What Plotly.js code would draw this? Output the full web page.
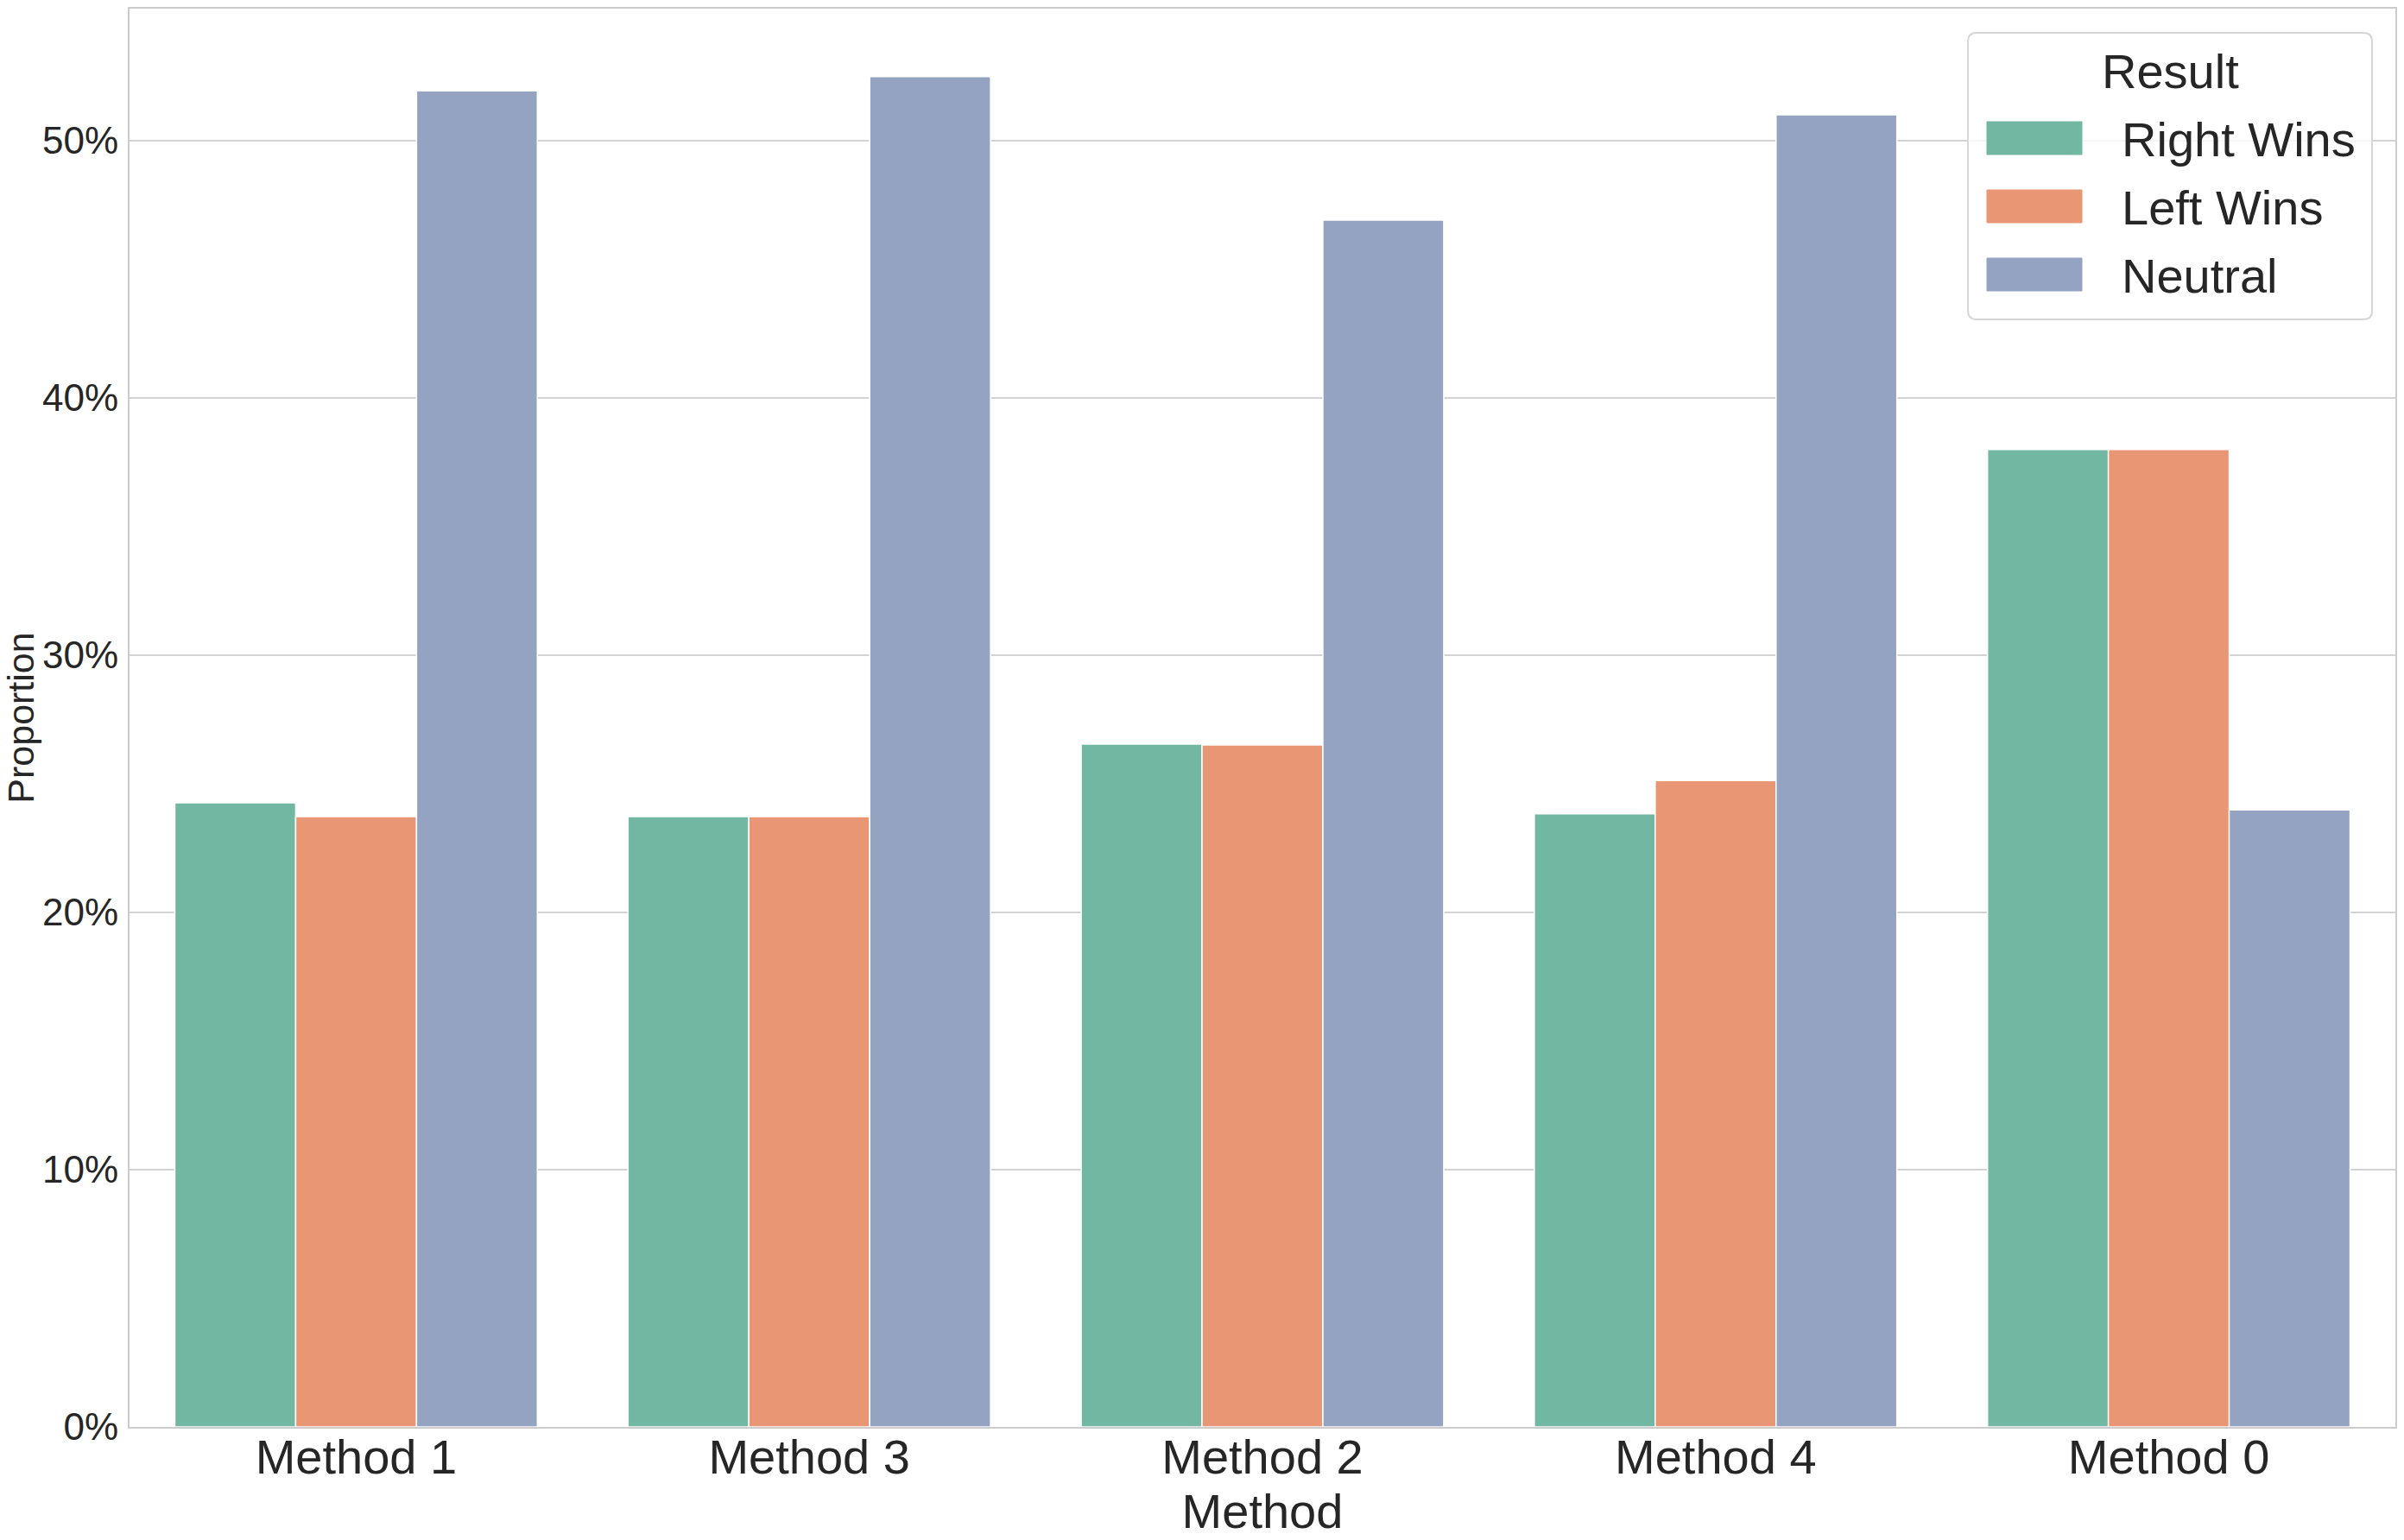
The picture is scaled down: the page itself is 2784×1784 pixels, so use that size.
<!DOCTYPE html>
<html>
<head>
<meta charset="utf-8">
<script src="https://cdn.plot.ly/plotly-3.0.1.min.js"></script>
<style>
  html, body { margin: 0; padding: 0; background: #ffffff; }
  #chart { width: 2784px; height: 1784px; }
</style>
</head>
<body>
<div id="chart"></div>
<script>
// ---- data ----
const methods = ["Method 1", "Method 3", "Method 2", "Method 4", "Method 0"];
const seriesNames = ["Right Wins", "Left Wins", "Neutral"];
const rightWins = [0.2426, 0.2372, 0.2654, 0.2383, 0.3799];
const leftWins  = [0.2372, 0.2372, 0.2651, 0.2512, 0.3799];
const neutral   = [0.5193, 0.5249, 0.4691, 0.5100, 0.2398];
const seriesColors = ["#72b7a1", "#e99675", "#95a3c3"];
const legendTitle = "Result";
const xTitle = "Method";
const yTitle = "Proportion";

const seriesValues = [rightWins, leftWins, neutral];
const FONT = "Liberation Sans, Arial, Helvetica, sans-serif";
const TXT = "#262626";

const traces = seriesNames.map((name, i) => ({
  type: "bar",
  name: name,
  x: methods,
  y: seriesValues[i],
  marker: { color: seriesColors[i], line: { color: "#ffffff", width: 1.5 } },
  showlegend: false,
  hovertemplate: "%{x}<br>" + name + ": %{y:.1%}<extra></extra>"
}));

// plot-area geometry (pixels) used to place the hand-drawn legend
const FIG_W = 2784, FIG_H = 1784;
const M = { l: 150, r: 10, t: 10, b: 131 };
const PW = FIG_W - M.l - M.r, PH = FIG_H - M.t - M.b;
const px = p => (p - M.l) / PW;
const py = p => 1 - (p - M.t) / PH;

// legend box with rounded corners
const bx0 = 2279, bx1 = 2747, by0 = 38, by1 = 370, rad = 10;
const rx = rad / PW, ry = rad / PH;
const X0 = px(bx0), X1 = px(bx1), Y0 = py(by0), Y1 = py(by1);
const boxPath =
  `M ${X0 + rx},${Y0} L ${X1 - rx},${Y0} Q ${X1},${Y0} ${X1},${Y0 - ry} ` +
  `L ${X1},${Y1 + ry} Q ${X1},${Y1} ${X1 - rx},${Y1} ` +
  `L ${X0 + rx},${Y1} Q ${X0},${Y1} ${X0},${Y1 + ry} ` +
  `L ${X0},${Y0 - ry} Q ${X0},${Y0} ${X0 + rx},${Y0} Z`;

const shapes = [{
  type: "path", xref: "paper", yref: "paper", path: boxPath,
  fillcolor: "rgba(255,255,255,0.8)", line: { color: "#d6d6d6", width: 2 }, layer: "above"
}];
const annotations = [{
  xref: "paper", yref: "paper", x: px(2513), y: py(82), xanchor: "center", yanchor: "middle",
  text: legendTitle, showarrow: false, font: { family: FONT, size: 56, color: TXT }
}];
const itemY = [160, 239, 318];
seriesNames.forEach((name, i) => {
  shapes.push({
    type: "rect", xref: "paper", yref: "paper",
    x0: px(2301), x1: px(2411), y0: py(itemY[i] - 19), y1: py(itemY[i] + 19),
    fillcolor: seriesColors[i], line: { color: seriesColors[i], width: 1 }, layer: "above"
  });
  annotations.push({
    xref: "paper", yref: "paper", x: px(2455), y: py(itemY[i] + 2), xanchor: "left", yanchor: "middle",
    text: name, showarrow: false, font: { family: FONT, size: 56, color: TXT }
  });
});

const layout = {
  width: FIG_W, height: FIG_H,
  margin: M,
  paper_bgcolor: "#ffffff", plot_bgcolor: "#ffffff",
  font: { family: FONT, color: TXT },
  barmode: "group", bargap: 0.2, bargroupgap: 0,
  xaxis: {
    type: "category", range: [-0.5, 4.5],
    showline: true, linecolor: "#cccccc", linewidth: 2, mirror: true,
    showgrid: false, zeroline: false, ticks: "",
    tickfont: { family: FONT, size: 56, color: TXT },
    ticklabelstandoff: -15,
    title: { text: xTitle, font: { family: FONT, size: 56, color: TXT }, standoff: 6 },
    automargin: false, fixedrange: true
  },
  yaxis: {
    range: [0, 0.5513], dtick: 0.1, tick0: 0, tickformat: ".0%",
    showline: true, linecolor: "#cccccc", linewidth: 2, mirror: true,
    showgrid: true, gridcolor: "#d3d3d3", gridwidth: 2, zeroline: false, ticks: "",
    tickfont: { family: FONT, size: 44, color: TXT },
    ticklabelstandoff: 2,
    title: { text: yTitle, font: { family: FONT, size: 43, color: TXT }, standoff: 4 },
    automargin: false, fixedrange: true
  },
  shapes: shapes,
  annotations: annotations
};

Plotly.newPlot("chart", traces, layout, { displayModeBar: false, responsive: false });
</script>
</body>
</html>
